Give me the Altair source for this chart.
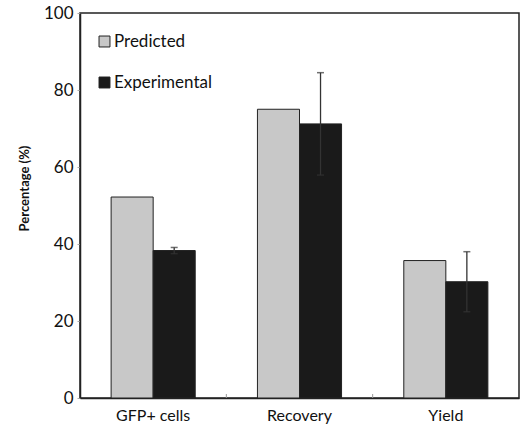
import altair as alt
import pandas as pd

categories = ["GFP+ cells", "Recovery", "Yield"]
series = ["Predicted", "Experimental"]
predicted = [52.2, 75.0, 35.7]
experimental = [38.3, 71.2, 30.2]
exp_err = [0.8, 13.3, 7.8]

rows = []
for c, p, e, s in zip(categories, predicted, experimental, exp_err):
    rows.append({"cat": c, "series": "Predicted", "value": p, "lo": None, "hi": None})
    rows.append({"cat": c, "series": "Experimental", "value": e, "lo": e - s, "hi": e + s})
df = pd.DataFrame(rows)
err_df = df[df["series"] == "Experimental"]
tick_df = pd.DataFrame({"cat": categories[1:]})

FONT = "Lato"

x = alt.X("cat:N", sort=categories, title=None,
          scale=alt.Scale(paddingInner=0, paddingOuter=0),
          axis=alt.Axis(labelAngle=0, labelFontSize=16, labelFont=FONT, labelColor="#111",
                        labelPadding=9, domainColor="#222", domainWidth=1.5,
                        ticks=False))
xoff = alt.XOffset("series:N", sort=series,
                   scale=alt.Scale(paddingInner=0, paddingOuter=0.74))

bars = alt.Chart(df).mark_bar(stroke="#222", strokeWidth=1).encode(
    x=x,
    xOffset=xoff,
    y=alt.Y("value:Q", title="Percentage (%)",
            scale=alt.Scale(domain=[0, 100], nice=False),
            axis=alt.Axis(values=[0, 20, 40, 60, 80, 100], grid=False,
                          labelFontSize=17, labelFont=FONT, labelColor="#111",
                          titleFont=FONT, titleFontSize=13, titleFontWeight="bold",
                          titleColor="#111", titleX=-56, titleY=175,
                          titleAlign="center", titleBaseline="middle", titleAngle=270,
                          domainColor="#222", domainWidth=1.5,
                          tickColor="#aaa", tickSize=3, labelPadding=4)),
    color=alt.Color("series:N", sort=series,
                    scale=alt.Scale(domain=series, range=["#c8c8c8", "#1a1a1a"]),
                    legend=alt.Legend(title=None, orient="none", legendX=16, legendY=20,
                                      symbolType="square", symbolSize=120,
                                      symbolStrokeColor="#222", symbolStrokeWidth=1,
                                      labelFontSize=17, labelFont=FONT, labelColor="#111",
                                      rowPadding=23, labelOffset=1)),
)

xticks = alt.Chart(tick_df).mark_rule(color="#999", strokeWidth=1).encode(
    x=alt.X("cat:N", sort=categories, bandPosition=0),
    y=alt.value(381), y2=alt.value(385),
)

rule = alt.Chart(err_df).mark_rule(color="#333", strokeWidth=1.3).encode(
    x=alt.X("cat:N", sort=categories),
    xOffset=alt.XOffset("series:N", sort=series),
    y="lo:Q", y2="hi:Q",
)
cap_hi = alt.Chart(err_df).mark_tick(color="#333", orient="horizontal", size=7, thickness=1.5).encode(
    x=alt.X("cat:N", sort=categories),
    xOffset=alt.XOffset("series:N", sort=series),
    y="hi:Q",
)
cap_lo = alt.Chart(err_df).mark_tick(color="#333", orient="horizontal", size=7, thickness=1.5).encode(
    x=alt.X("cat:N", sort=categories),
    xOffset=alt.XOffset("series:N", sort=series),
    y="lo:Q",
)

chart = alt.layer(bars, xticks, rule, cap_hi, cap_lo).properties(
    width=439, height=385,
    autosize=alt.AutoSizeParams(type="none"),
    padding={"left": 80, "top": 13, "right": 1, "bottom": 32},
    background="white",
).configure_view(stroke="#222", strokeWidth=1.5)

chart.save("out.html", embed_options={"renderer": "svg", "actions": False})
